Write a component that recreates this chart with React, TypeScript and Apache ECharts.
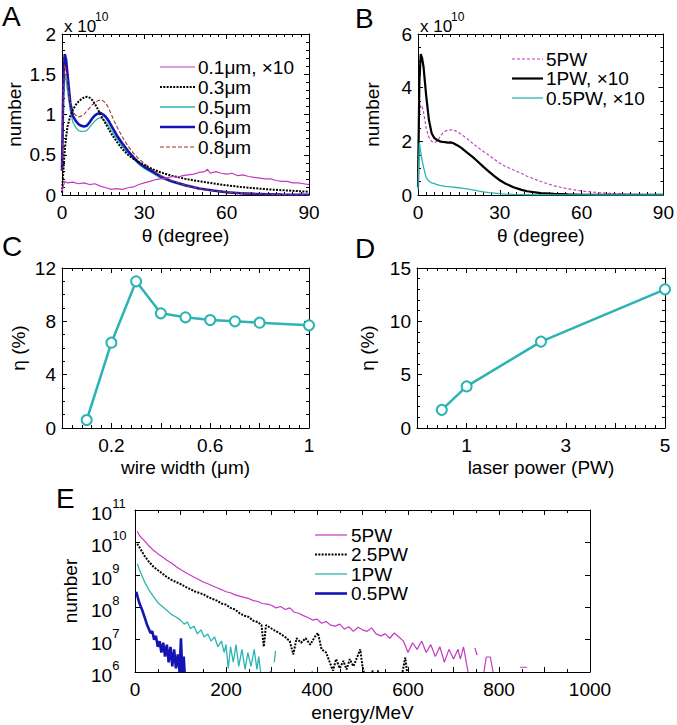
import React, { useEffect, useRef } from 'react';
import * as echarts from 'echarts';

// ---------- Panel A: angular distribution (units of 1e10) ----------
const thetaA = [0, 0.5, 1, 1.5, 2, 3, 4, 5, 6, 7, 8, 9, 10, 11, 12, 13, 14, 15, 16, 17, 18, 19, 20, 22, 24, 26, 28, 30, 33, 36, 40, 45, 50, 55, 60, 65, 70, 75, 80, 85, 90];
const a03 = [0.03, 0.3, 0.55, 0.72, 0.85, 0.98, 1.06, 1.12, 1.16, 1.19, 1.21, 1.22, 1.21, 1.18, 1.13, 1.07, 1.0, 0.94, 0.88, 0.82, 0.76, 0.71, 0.66, 0.57, 0.5, 0.45, 0.41, 0.37, 0.32, 0.28, 0.24, 0.2, 0.17, 0.145, 0.12, 0.1, 0.085, 0.07, 0.06, 0.05, 0.04];
const a05 = [0.3, 1.2, 1.5, 1.42, 1.3, 1.05, 0.9, 0.84, 0.8, 0.79, 0.79, 0.8, 0.84, 0.88, 0.92, 0.95, 0.96, 0.94, 0.91, 0.86, 0.8, 0.75, 0.7, 0.6, 0.52, 0.45, 0.38, 0.33, 0.27, 0.21, 0.16, 0.11, 0.075, 0.05, 0.033, 0.02, 0.013, 0.009, 0.006, 0.004, 0.003];
const a06 = [0.3, 1.4, 1.75, 1.68, 1.5, 1.15, 0.98, 0.92, 0.88, 0.86, 0.85, 0.86, 0.9, 0.95, 0.99, 1.01, 1.02, 1.0, 0.97, 0.92, 0.86, 0.8, 0.74, 0.64, 0.55, 0.47, 0.4, 0.35, 0.29, 0.23, 0.17, 0.12, 0.08, 0.055, 0.035, 0.022, 0.014, 0.01, 0.006, 0.004, 0.003];
const a08 = [0.3, 1.3, 1.62, 1.55, 1.4, 1.15, 1.03, 0.99, 0.97, 0.98, 1.0, 1.04, 1.08, 1.12, 1.14, 1.17, 1.18, 1.17, 1.14, 1.08, 1.0, 0.92, 0.85, 0.72, 0.61, 0.52, 0.45, 0.39, 0.31, 0.24, 0.18, 0.12, 0.08, 0.055, 0.035, 0.022, 0.014, 0.01, 0.006, 0.004, 0.003];
const thetaA01 = [0, 1, 2, 4, 6, 8, 10, 12, 14, 16, 18, 20, 22, 24, 26, 28, 30, 32, 34, 36, 38, 40, 42, 44, 46, 48, 50, 52, 53, 54, 56, 58, 60, 62, 64, 66, 68, 70, 72, 74, 76, 78, 80, 82, 84, 86, 88, 90];
const a01 = [0.05, 0.17, 0.15, 0.16, 0.14, 0.15, 0.13, 0.14, 0.11, 0.09, 0.07, 0.08, 0.07, 0.09, 0.1, 0.13, 0.15, 0.17, 0.19, 0.2, 0.21, 0.23, 0.22, 0.24, 0.25, 0.26, 0.28, 0.29, 0.32, 0.27, 0.29, 0.27, 0.26, 0.27, 0.24, 0.25, 0.23, 0.22, 0.21, 0.2, 0.2, 0.18, 0.17, 0.17, 0.15, 0.15, 0.14, 0.13];

// ---------- Panel B ----------
const thetaB = [0, 0.5, 1, 1.5, 2, 3, 4, 5, 6, 7, 8, 9, 10, 11, 12, 13, 14, 15, 16, 18, 20, 22, 24, 26, 28, 30, 32, 35, 38, 40, 45, 50, 55, 60, 65, 70, 75, 80, 85, 90];
const b5 = [1.0, 3.0, 3.35, 3.3, 3.1, 2.5, 2.15, 2.0, 1.95, 2.0, 2.15, 2.3, 2.38, 2.42, 2.43, 2.42, 2.38, 2.32, 2.25, 2.1, 1.93, 1.77, 1.62, 1.48, 1.33, 1.18, 1.07, 0.93, 0.8, 0.7, 0.5, 0.34, 0.23, 0.15, 0.1, 0.065, 0.04, 0.025, 0.015, 0.01];
const b1 = [0.3, 4.2, 5.25, 5.1, 4.8, 3.7, 2.8, 2.3, 2.12, 2.05, 2.0, 1.98, 1.97, 1.95, 1.96, 1.93, 1.87, 1.82, 1.75, 1.58, 1.42, 1.24, 1.05, 0.87, 0.7, 0.55, 0.43, 0.29, 0.19, 0.14, 0.07, 0.04, 0.02, 0.01, 0.006, 0.004, 0.003, 0.002, 0.002, 0.002];
const b05 = [0.2, 1.95, 1.6, 1.3, 1.05, 0.65, 0.52, 0.45, 0.42, 0.39, 0.36, 0.34, 0.32, 0.31, 0.3, 0.29, 0.28, 0.27, 0.26, 0.23, 0.19, 0.15, 0.12, 0.09, 0.07, 0.05, 0.035, 0.02, 0.012, 0.01, 0.005, 0.003, 0.002, 0.001, 0, 0, 0, 0, 0, 0];

// ---------- Panel C / D ----------
const wireWidth = [0.1, 0.2, 0.3, 0.4, 0.5, 0.6, 0.7, 0.8, 1.0];
const etaC = [0.6, 6.4, 11.0, 8.6, 8.3, 8.1, 8.0, 7.9, 7.7];
const laserPower = [0.5, 1, 2.5, 5];
const etaD = [1.7, 3.9, 8.1, 13.0];

// ---------- Panel E: energy spectra [MeV, number] ----------
const spec5PW: [number, number | null][] = [[5, 2.2e10], [10, 1.6e10], [20, 1.15e10], [30, 8.0e9], [40, 5.8e9], [50, 4.5e9], [60, 3.6e9], [70, 2.8e9], [80, 2.3e9], [90, 1.8e9], [100, 1.45e9], [110, 1.2e9], [120, 1.0e9], [130, 8.4e8], [140, 7.2e8], [150, 6.0e8], [160, 5.3e8], [170, 4.6e8], [180, 4.0e8], [190, 3.5e8], [200, 3.0e8], [210, 2.8e8], [220, 2.4e8], [230, 2.2e8], [240, 2.0e8], [250, 1.85e8], [260, 1.6e8], [270, 1.5e8], [280, 1.3e8], [290, 1.25e8], [300, 1.15e8], [310, 9.5e7], [320, 1.05e8], [330, 8.5e7], [340, 9.5e7], [350, 7.0e7], [360, 6.5e7], [370, 5.5e7], [380, 4.8e7], [390, 4.0e7], [400, 4.3e7], [410, 3.2e7], [420, 3.6e7], [430, 2.8e7], [440, 2.6e7], [450, 3.0e7], [460, 2.1e7], [470, 2.5e7], [480, 1.8e7], [490, 2.4e7], [500, 2.0e7], [510, 1.8e7], [520, 2.3e7], [530, 1.5e7], [540, 1.3e7], [550, 1.5e7], [560, 1.1e7], [570, 1.6e7], [580, 1.2e7], [590, 9e6], [600, 4e6], [610, 8e6], [620, 5e6], [630, 9e6], [640, 4e6], [650, 7e6], [660, 3e6], [670, 6e6], [680, 2e6], [690, 5e6], [700, 2.5e6], [710, 5e6], [715, 2.5e6], [722, 6e6], [732, 1e6], [735, null], [747, 5.5e6], [752, 3.3e6], [755, null], [767, 1e6], [772, 2.9e6], [781, 2.9e6], [787, 1e6], [790, null], [846, 1.4e6], [862, 1.4e6]];
const spec25PW: [number, number | null][] = [[5, 9e9], [10, 7e9], [20, 4e9], [30, 2.6e9], [40, 1.8e9], [50, 1.4e9], [60, 1.1e9], [70, 8.5e8], [80, 7e8], [90, 6e8], [100, 5.2e8], [110, 4.3e8], [120, 3.7e8], [130, 3.1e8], [140, 2.8e8], [150, 2.5e8], [160, 2.1e8], [170, 1.8e8], [180, 1.6e8], [190, 1.3e8], [200, 1.2e8], [210, 9.5e7], [220, 8.5e7], [230, 6.5e7], [240, 5.5e7], [250, 5e7], [260, 3.8e7], [270, 3.5e7], [278, 2.8e7], [283, 6e6], [288, 2.8e7], [300, 2.2e7], [310, 1.8e7], [320, 1.5e7], [330, 1.2e7], [340, 9e6], [348, 3.5e6], [355, 1.1e7], [365, 8e6], [375, 1.1e7], [385, 7e6], [395, 1.2e7], [402, 1.6e7], [410, 5e6], [420, 4e6], [428, 2e6], [435, 1.1e6], [442, 2.5e6], [450, 1.3e6], [458, 2.2e6], [465, 1.2e6], [472, 2.5e6], [480, 1.5e6], [488, 2.8e6], [495, 5e6], [500, 1.5e6], [503, 1e6], [506, null], [520, 1.05e6], [524, 1.05e6], [526, null], [532, 1.05e6], [536, 1.05e6], [538, null], [588, 1e6], [594, 2.8e6], [598, 1e6]];
const spec1PW: [number, number | null][] = [[5, 2.2e9], [10, 1.4e9], [20, 6.5e8], [30, 3.5e8], [40, 2.2e8], [50, 1.4e8], [60, 1.05e8], [70, 8e7], [80, 6e7], [90, 5e7], [100, 4e7], [108, 3e7], [115, 3.5e7], [122, 2.2e7], [130, 2.6e7], [137, 1.5e7], [145, 2e7], [152, 1.2e7], [160, 1.5e7], [167, 9e6], [175, 1.2e7], [182, 6e6], [190, 9e6], [196, 4e6], [200, 7e6], [205, 1.3e6], [210, 6e6], [216, 2e6], [222, 7e6], [228, 1.5e6], [235, 5e6], [242, 1.2e6], [248, 4e6], [255, 1.5e6], [262, 5e6], [268, 1.2e6], [272, 3e6], [276, 1e6], [278, null], [296, 1.05e6], [300, 1.05e6], [302, null], [306, 2e6], [309, 4.5e6], [311, null], [388, 1.05e6], [391, 1.05e6]];
const spec05PW: [number, number | null][] = [[3, 3e8], [6, 2e8], [10, 1.3e8], [16, 8e7], [22, 4.5e7], [26, 3e7], [30, 2.2e7], [34, 1.6e7], [38, 1.8e7], [42, 1e7], [46, 1.3e7], [50, 6e6], [54, 9e6], [58, 4e6], [62, 8e6], [66, 3e6], [70, 7e6], [74, 2e6], [78, 6e6], [82, 1.5e6], [86, 5e6], [90, 1.3e6], [94, 3.5e6], [98, 1e6], [101, 1.1e7], [104, 1e6], [107, 3e6], [109, 1e6]];

const FONT = '"Liberation Sans", Arial, Helvetica, sans-serif';
const MAGENTA = '#c23ac2';
const CYAN = '#2cb3b3';
const BLUE = '#1414b4';
const DARKRED = '#a83434';

const zip = (xs: number[], ys: number[]) => xs.map((x, i) => [x, ys[i]]);
const pairs = (p: [number, number | null][]) => p.map(([x, y]) => [x, y === null ? '-' : y]);

const tickStyle = { color: '#000', width: 1 };

function xAxes(g: number, min: number, max: number, interval: number, minor: number, name: string, nameGap: number, fmt?: (v: number) => string) {
  const base = {
    type: 'value', gridIndex: g, min, max, interval,
    axisLine: { show: true, onZero: false, lineStyle: tickStyle },
    axisTick: { show: true, inside: true, length: 5, lineStyle: tickStyle },
    minorTick: { show: true, splitNumber: minor, length: 3, lineStyle: tickStyle },
    splitLine: { show: false },
  };
  return [
    {
      ...base, position: 'bottom',
      axisLabel: { show: true, color: '#000', fontSize: 19, fontFamily: FONT, margin: 8, showMinLabel: true, showMaxLabel: true, formatter: fmt },
      name, nameLocation: 'middle', nameGap,
      nameTextStyle: { color: '#000', fontSize: 19, fontFamily: FONT },
    },
    { ...base, position: 'top', axisLabel: { show: false } },
  ];
}

function yAxes(g: number, min: number, max: number, interval: number, minor: number, name: string, nameGap: number) {
  const base = {
    type: 'value', gridIndex: g, min, max, interval,
    axisLine: { show: true, onZero: false, lineStyle: tickStyle },
    axisTick: { show: true, inside: true, length: 5, lineStyle: tickStyle },
    minorTick: { show: true, splitNumber: minor, length: 3, lineStyle: tickStyle },
    splitLine: { show: false },
  };
  return [
    {
      ...base, position: 'left',
      axisLabel: { show: true, color: '#000', fontSize: 19, fontFamily: FONT, margin: 6, showMinLabel: true, showMaxLabel: true },
      name, nameLocation: 'middle', nameGap, nameRotate: 90,
      nameTextStyle: { color: '#000', fontSize: 19, fontFamily: FONT },
    },
    { ...base, position: 'right', axisLabel: { show: false } },
  ];
}

function txt(x: number, y: number, text: string, size: number, lh?: number) {
  return {
    type: 'text', x, y, silent: true,
    style: { text, fontSize: size, fontFamily: FONT, fill: '#000', lineHeight: lh ?? size, align: 'left', verticalAlign: 'middle', textAlign: 'left', textVerticalAlign: 'middle' },
  };
}
function seg(x1: number, x2: number, y: number, color: string, width: number, dash?: number[]) {
  return {
    type: 'line', silent: true,
    shape: { x1, y1: y, x2, y2: y },
    style: { stroke: color, lineWidth: width, lineDash: dash },
  };
}

function line(name: string, data: any[], g: number, color: string, width: number, dash?: number[], z = 2) {
  return {
    type: 'line', name, data, xAxisIndex: 2 * g, yAxisIndex: 2 * g,
    symbol: 'none', showSymbol: false, connectNulls: false, z,
    lineStyle: { color, width, type: dash ? dash : 'solid' },
    itemStyle: { color },
  };
}
function marked(name: string, data: any[], g: number) {
  return {
    type: 'line', name, data, xAxisIndex: 2 * g, yAxisIndex: 2 * g,
    symbol: 'emptyCircle', symbolSize: 10, showSymbol: true,
    lineStyle: { color: CYAN, width: 2.5 },
    itemStyle: { color: CYAN, borderColor: CYAN, borderWidth: 2 },
  };
}

const xs = [
  ...xAxes(0, 0, 90, 30, 10, 'θ (degree)', 31),
  ...xAxes(1, 0, 90, 30, 10, 'θ (degree)', 31),
  ...xAxes(2, 0, 1, 0.2, 5, 'wire width (μm)', 30, (v: number) => {
    const r = Math.round(v * 10) / 10;
    return r === 0.2 || r === 0.6 || r === 1 ? String(r) : '';
  }),
  ...xAxes(3, 0, 5, 1, 5, 'laser power (PW)', 30, (v: number) => (v === 1 || v === 3 || v === 5 ? String(v) : '')),
  ...xAxes(4, 0, 1000, 100, 2, 'energy/MeV', 31, (v: number) => (v % 200 === 0 ? String(v) : '')),
];

const logBase = {
  type: 'log', logBase: 10, gridIndex: 4, min: 1e6, max: 1e11, splitNumber: 5,
  axisLine: { show: true, onZero: false, lineStyle: tickStyle },
  axisTick: { show: true, inside: true, length: 5, lineStyle: tickStyle },
  minorTick: { show: false },
  splitLine: { show: false },
};
const ys = [
  ...yAxes(0, 0, 2, 0.5, 5, 'number', 38),
  ...yAxes(1, 0, 6, 2, 4, 'number', 36),
  ...yAxes(2, 0, 12, 4, 4, 'η (%)', 34),
  ...yAxes(3, 0, 15, 5, 5, 'η (%)', 40),
  {
    ...logBase, position: 'left',
    axisLabel: {
      show: true, color: '#000', fontFamily: FONT, align: 'left', margin: 44,
      formatter: (v: number) => `{b|10}{s|${Math.round(Math.log10(v))}}`,
      rich: {
        b: { fontSize: 19, fontFamily: FONT, color: '#000', lineHeight: 26, verticalAlign: 'bottom' },
        s: { fontSize: 13, fontFamily: FONT, color: '#000', verticalAlign: 'top' },
      },
    },
    name: 'number', nameLocation: 'middle', nameGap: 51, nameRotate: 90,
    nameTextStyle: { color: '#000', fontSize: 19, fontFamily: FONT },
  },
  { ...logBase, position: 'right', axisLabel: { show: false } },
];

const option = {
  animation: false,
  backgroundColor: '#fff',
  textStyle: { fontFamily: FONT },
  grid: [
    { left: 62, top: 34, width: 247, height: 161 },
    { left: 418, top: 34, width: 246, height: 161 },
    { left: 62, top: 268, width: 247, height: 160 },
    { left: 417, top: 268, width: 248, height: 160 },
    { left: 135, top: 510, width: 455, height: 162 },
  ],
  xAxis: xs,
  yAxis: ys,
  series: [
    line('0.5μm', zip(thetaA, a05), 0, CYAN, 1.3),
    line('0.6μm', zip(thetaA, a06), 0, BLUE, 2.6),
    line('0.8μm', zip(thetaA, a08), 0, DARKRED, 1.1, [4, 2]),
    line('0.3μm', zip(thetaA, a03), 0, '#000', 2, [2, 1.3]),
    line('0.1μm, ×10', zip(thetaA01, a01), 0, MAGENTA, 1.2),

    line('5PW (θ)', zip(thetaB, b5), 1, MAGENTA, 1.1, [3, 2]),
    line('1PW, ×10', zip(thetaB, b1), 1, '#000', 2.2),
    line('0.5PW, ×10', zip(thetaB, b05), 1, CYAN, 1.3),

    marked('η vs wire width', zip(wireWidth, etaC), 2),
    marked('η vs laser power', zip(laserPower, etaD), 3),

    line('5PW', pairs(spec5PW), 4, MAGENTA, 1.2),
    line('2.5PW', pairs(spec25PW), 4, '#000', 2, [2, 1.3]),
    line('1PW', pairs(spec1PW), 4, CYAN, 1.3),
    line('0.5PW', pairs(spec05PW), 4, BLUE, 2.6),
  ],
  graphic: [
    txt(2, 16, 'A', 28), txt(355, 18, 'B', 28), txt(2, 246, 'C', 28), txt(355, 248, 'D', 28), txt(56, 498, 'E', 28),
    txt(64, 26, 'x 10', 17), txt(95, 17, '10', 12),
    txt(420, 26, 'x 10', 17), txt(451, 17, '10', 12),
    // legend A
    seg(160, 195, 67, MAGENTA, 1.2), txt(198, 67, '0.1μm, ×10', 19),
    seg(160, 195, 87, '#000', 2, [2, 1.3]), txt(198, 87, '0.3μm', 19),
    seg(160, 195, 107, CYAN, 1.3), txt(198, 107, '0.5μm', 19),
    seg(160, 195, 127, BLUE, 2.6), txt(198, 127, '0.6μm', 19),
    seg(160, 195, 147, DARKRED, 1.1, [4, 2]), txt(198, 147, '0.8μm', 19),
    // legend B
    seg(512, 543, 59, MAGENTA, 1.1, [3, 2]), txt(546, 59, '5PW', 19),
    seg(512, 543, 78.5, '#000', 2.2), txt(546, 78.5, '1PW, ×10', 19),
    seg(512, 543, 98, CYAN, 1.3), txt(546, 98, '0.5PW, ×10', 19),
    // legend E
    seg(315, 347, 535, MAGENTA, 1.2), txt(351, 535, '5PW', 19),
    seg(315, 347, 554.5, '#000', 2, [2, 1.3]), txt(351, 554.5, '2.5PW', 19),
    seg(315, 347, 574, CYAN, 1.3), txt(351, 574, '1PW', 19),
    seg(315, 347, 593.5, BLUE, 2.6), txt(351, 593.5, '0.5PW', 19),
  ],
};

export default function App() {
  const ref = useRef<HTMLDivElement>(null);
  useEffect(() => {
    if (!ref.current) return;
    const chart = echarts.init(ref.current, null, { renderer: 'svg' });
    chart.setOption(option as any);
    return () => chart.dispose();
  }, []);
  return <div ref={ref} style={{ position: 'absolute', left: 0, top: 0, width: 677, height: 725, background: '#fff' }} />;
}
